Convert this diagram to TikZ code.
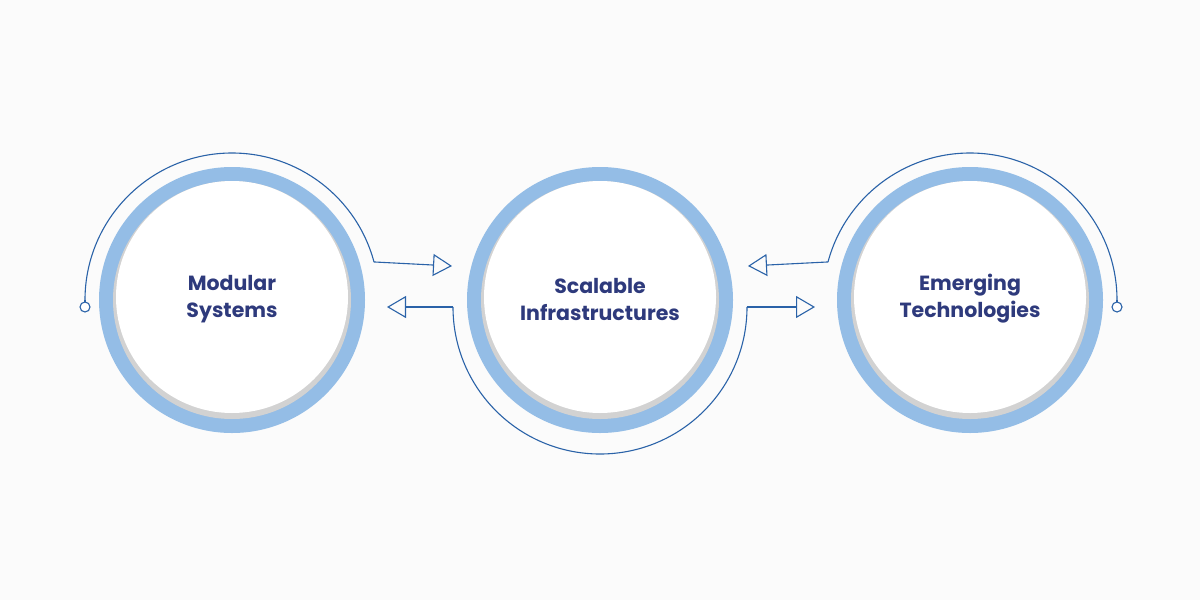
\documentclass[tikz,border=0pt]{standalone}
\usepackage{fontspec}
\setmainfont{Poppins}
\usetikzlibrary{arrows.meta}
\definecolor{ring}{HTML}{94BDE6}
\definecolor{ln}{HTML}{2A62A8}
\definecolor{txt}{HTML}{2E3A7C}
\begin{document}
\begin{tikzpicture}[x=1pt,y=-1pt,
  ln/.style={draw=ln,line width=1.1pt},
  tip/.style={-{Triangle[open,length=19pt,width=22pt,line width=1.1pt]}},
  lbl/.style={font=\bfseries\fontsize{20.5}{27}\selectfont,text=txt,align=center}]
\fill[white!97!gray] (0,0) rectangle (1200,600);
\useasboundingbox (0,0) rectangle (1200,600);
\foreach \n/\x/\t in {a/232/{Modular\\Systems},b/600/{Scalable\\Infrastructures},c/970/{Emerging\\Technologies}}{
  \fill[ring] (\x,300) circle (133);
  \fill[gray!35] (\x,300) circle (119);
  \fill[white] (\x,297) circle (116);
  \node[lbl] (\n) at (\x,299) {\t};
}
% left outline
\draw[ln] (85,300) arc (180:345:147) coordinate (e1);
\draw[ln] (85,300) -- (85,302);
\draw[ln,fill=white] (85,307) circle (5);
\coordinate (t1) at (452,266);
\draw[ln,tip] (e1) -- (t1);
% middle outline
\coordinate (m1) at (453,307);
\draw[ln] (m1) arc (180:0:147) coordinate (m2);
\coordinate (t2) at (387,307);
\coordinate (t3) at (815,307);
\draw[ln,tip] (m1) -- (t2);
\draw[ln,tip] (m2) -- (t3);
% right outline
\draw[ln] (1117,300) arc (0:-165:147) coordinate (e3);
\draw[ln] (1117,300) -- (1117,302);
\draw[ln,fill=white] (1117,307) circle (5);
\coordinate (t4) at (748,266);
\draw[ln,tip] (e3) -- (t4);
\end{tikzpicture}
\end{document}
